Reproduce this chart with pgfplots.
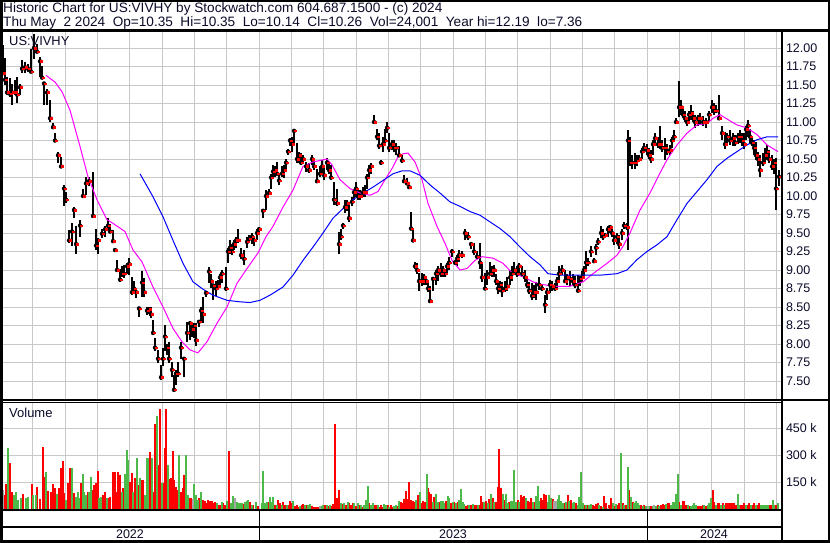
\documentclass[border=0pt]{standalone}
\usepackage{pgfplots}
\pgfplotsset{compat=1.18}
\usepackage{pgfplotstable}
\usepackage{fontspec}
\setmainfont{Liberation Sans}

\definecolor{volred}{RGB}{255,0,0}
\definecolor{volgreen}{RGB}{77,185,72}
\definecolor{volgray}{RGB}{165,165,165}
\definecolor{gridgray}{RGB}{200,200,200}
\definecolor{mafast}{RGB}{255,0,255}
\definecolor{maslow}{RGB}{0,0,255}
\definecolor{txt}{RGB}{10,10,40}

% daily bars, x in pixel units of the chart
\pgfplotstableread{
x l h c
3 11.63 12.04 11.66
5 11.50 11.86 11.57
7 11.37 11.61 11.40
10 11.34 11.59 11.38
12 11.23 11.52 11.40
15 11.36 11.57 11.40
17 11.25 11.61 11.37
20 11.36 11.52 11.47
22 11.66 11.84 11.72
25 11.66 11.81 11.74
28 11.68 11.79 11.72
31 11.66 11.99 11.68
34 11.85 12.19 12.00
37 11.93 12.06 11.95
40 11.61 11.88 11.82
42 11.59 11.75 11.60
44 11.23 11.54 11.52
47 11.23 11.45 11.40
50 11.00 11.30 11.05
53 10.91 10.98 10.93
55 10.73 10.85 10.75
58 10.44 10.60 10.55
61 10.40 10.53 10.40
64 9.86 10.15 10.10
66 9.90 10.05 9.95
69 9.36 9.54 9.40
72 9.32 9.63 9.52
74 9.70 9.85 9.81
76 9.22 9.59 9.35
80 9.45 9.67 9.60
83 9.99 10.10 10.00
86 10.01 10.26 10.17
89 10.13 10.26 10.20
93 9.70 10.33 9.73
96 9.27 9.56 9.33
98 9.22 9.43 9.40
102 9.43 9.56 9.49
105 9.45 9.60 9.55
108 9.54 9.70 9.60
110 9.50 9.62 9.52
113 9.36 9.54 9.39
115 9.25 9.30 9.27
117 8.98 9.13 9.00
120 8.84 9.02 8.87
122 8.90 9.05 8.95
124 8.89 9.07 8.95
127 8.95 9.10 9.05
129 8.93 9.16 9.08
132 8.66 8.91 8.70
134 8.70 8.85 8.75
136 8.62 8.75 8.70
139 8.37 8.50 8.48
142 8.64 8.98 8.83
144 8.64 8.89 8.70
147 8.39 8.50 8.45
149 8.40 8.50 8.47
151 8.35 8.50 8.40
153 8.12 8.32 8.15
155 7.90 8.08 7.95
158 7.74 7.92 7.80
161 7.51 7.72 7.55
163 7.70 7.95 7.80
165 7.90 8.26 8.10
167 7.85 8.00 7.95
169 7.74 8.03 7.80
172 7.56 7.76 7.65
174 7.36 7.58 7.38
176 7.45 7.65 7.60
178 7.56 7.76 7.60
181 7.80 8.03 7.95
184 7.56 7.81 7.80
187 8.03 8.30 8.15
190 8.05 8.30 8.28
192 8.10 8.25 8.20
194 8.08 8.28 8.25
196 7.97 8.28 8.05
199 8.23 8.32 8.30
201 8.30 8.50 8.45
203 8.28 8.64 8.40
206 8.64 8.70 8.69
209 8.82 9.04 8.98
211 8.75 8.95 8.85
213 8.60 8.80 8.79
216 8.65 8.85 8.75
218 8.73 8.86 8.78
220 8.80 8.95 8.90
222 8.82 9.00 8.95
226 8.71 9.04 8.75
228 9.10 9.30 9.25
230 9.22 9.40 9.30
232 9.20 9.35 9.25
234 9.27 9.40 9.35
236 9.30 9.45 9.40
238 9.36 9.56 9.40
241 9.15 9.30 9.20
244 9.07 9.27 9.15
247 9.30 9.45 9.38
249 9.36 9.47 9.42
252 9.35 9.50 9.45
254 9.32 9.45 9.40
257 9.40 9.55 9.50
259 9.47 9.58 9.55
263 9.70 9.81 9.80
266 9.81 10.08 10.00
269 10.04 10.10 10.04
271 10.10 10.30 10.25
273 10.24 10.42 10.33
275 10.25 10.40 10.35
277 10.28 10.46 10.30
279 10.15 10.28 10.21
282 10.25 10.40 10.30
284 10.24 10.42 10.35
286 10.35 10.50 10.45
288 10.55 10.64 10.60
290 10.67 10.78 10.75
292 10.60 10.80 10.70
294 10.71 10.91 10.88
297 10.44 10.71 10.50
299 10.45 10.60 10.55
301 10.42 10.58 10.45
303 10.45 10.55 10.50
306 10.33 10.46 10.40
309 10.31 10.44 10.35
312 10.42 10.55 10.50
314 10.35 10.50 10.40
317 10.17 10.37 10.20
320 10.25 10.40 10.30
322 10.30 10.48 10.40
324 10.22 10.42 10.28
327 10.35 10.51 10.45
329 10.30 10.45 10.35
331 10.22 10.42 10.25
334 9.88 10.19 9.95
337 9.86 10.10 9.90
339 9.22 9.52 9.35
341 9.40 9.55 9.45
343 9.56 9.63 9.60
345 9.77 9.94 9.85
347 9.80 9.95 9.90
349 9.65 9.90 9.70
352 9.86 9.99 9.92
354 9.95 10.10 10.05
356 9.99 10.19 10.10
358 9.95 10.10 10.00
360 9.94 10.08 10.00
363 9.98 10.12 10.05
365 9.99 10.15 10.05
367 10.10 10.30 10.25
369 10.24 10.42 10.35
371 10.30 10.45 10.40
374 10.98 11.09 11.00
377 10.76 10.91 10.80
379 10.64 10.85 10.68
381 10.42 10.49 10.45
383 10.60 10.80 10.70
385 10.71 10.91 10.75
387 10.85 11.00 10.92
389 10.60 10.85 10.65
392 10.62 10.76 10.70
394 10.60 10.75 10.65
396 10.55 10.71 10.65
399 10.53 10.67 10.55
402 10.44 10.55 10.48
404 10.17 10.28 10.20
407 10.15 10.24 10.17
409 10.10 10.15 10.12
411 9.54 9.79 9.56
413 9.38 9.56 9.40
415 9.02 9.11 9.05
417 8.95 9.10 9.00
419 8.71 8.96 8.85
422 8.78 8.96 8.85
424 8.80 8.95 8.90
426 8.80 8.89 8.85
428 8.70 8.85 8.75
430 8.55 8.78 8.58
433 8.71 8.91 8.88
436 8.80 9.00 8.95
438 8.85 9.05 9.00
441 8.91 9.09 8.95
443 8.90 9.05 9.00
445 8.91 9.00 8.95
447 8.95 9.10 9.05
449 9.00 9.18 9.10
452 9.18 9.29 9.25
455 9.07 9.13 9.10
457 9.05 9.20 9.15
459 9.11 9.27 9.20
462 9.16 9.25 9.20
465 9.40 9.56 9.50
468 9.40 9.52 9.45
471 9.29 9.38 9.35
474 9.20 9.36 9.25
477 9.16 9.25 9.18
480 9.02 9.36 9.10
482 8.84 9.09 8.90
485 8.73 8.96 8.75
487 8.80 9.00 8.90
490 8.93 9.11 8.95
492 8.90 9.05 9.00
494 8.91 9.07 9.00
496 8.80 8.95 8.85
498 8.68 8.86 8.75
500 8.70 8.85 8.80
502 8.64 8.84 8.72
505 8.70 8.85 8.75
507 8.71 8.91 8.78
510 8.80 9.00 8.90
512 8.85 9.05 8.95
514 8.93 9.11 9.00
517 8.90 9.05 8.95
519 8.95 9.09 9.05
522 8.90 9.05 8.95
525 8.84 9.00 8.90
527 8.75 8.90 8.80
529 8.68 8.84 8.72
532 8.60 8.82 8.65
534 8.62 8.80 8.70
536 8.60 8.84 8.70
539 8.73 8.91 8.80
542 8.71 8.80 8.75
545 8.42 8.66 8.53
547 8.60 8.75 8.70
550 8.69 8.87 8.80
552 8.72 8.85 8.78
555 8.71 8.82 8.75
557 8.75 8.90 8.85
559 8.87 9.05 8.95
562 8.93 9.07 9.00
565 8.82 9.00 8.85
567 8.80 8.95 8.90
570 8.78 8.98 8.88
573 8.80 8.95 8.85
575 8.75 8.92 8.80
578 8.71 8.93 8.72
580 8.78 8.92 8.88
582 8.84 8.98 8.90
584 8.90 9.05 9.00
586 9.00 9.25 9.10
588 9.05 9.16 9.10
591 9.18 9.32 9.25
594 9.09 9.16 9.12
596 9.20 9.35 9.30
598 9.34 9.43 9.38
601 9.43 9.59 9.50
603 9.40 9.55 9.45
605 9.43 9.50 9.47
608 9.45 9.60 9.55
610 9.50 9.61 9.58
612 9.45 9.55 9.50
614 9.34 9.50 9.40
617 9.35 9.50 9.45
619 9.29 9.47 9.35
622 9.40 9.55 9.50
624 9.56 9.65 9.60
627 9.54 9.63 9.58
628 9.27 10.89 10.75
630 10.40 10.80 10.45
632 10.37 10.55 10.45
635 10.37 10.58 10.45
637 10.40 10.55 10.48
639 10.49 10.55 10.50
642 10.50 10.65 10.60
644 10.58 10.71 10.65
647 10.55 10.70 10.62
649 10.50 10.65 10.55
651 10.44 10.62 10.50
653 10.55 10.75 10.70
655 10.69 10.85 10.78
658 10.65 10.80 10.70
660 10.64 10.94 10.70
662 10.60 10.75 10.65
665 10.49 10.78 10.65
667 10.55 10.70 10.60
670 10.55 10.69 10.62
672 10.65 10.80 10.75
674 10.76 10.89 10.80
676 11.00 11.05 11.00
679 11.07 11.55 11.20
681 11.10 11.30 11.20
683 11.05 11.21 11.10
685 11.00 11.15 11.05
687 10.94 11.07 11.00
689 11.00 11.15 11.10
691 11.03 11.23 11.12
693 11.00 11.15 11.05
695 10.92 11.10 11.00
698 10.95 11.10 11.05
700 10.96 11.12 11.05
703 10.95 11.08 11.00
706 10.92 11.05 11.00
709 11.00 11.15 11.10
712 11.12 11.30 11.20
714 11.10 11.25 11.15
716 11.12 11.23 11.15
719 11.03 11.37 11.05
722 10.76 10.94 10.85
725 10.64 10.87 10.70
727 10.70 10.85 10.80
730 10.69 10.89 10.75
733 10.68 10.85 10.78
735 10.67 10.82 10.72
738 10.70 10.85 10.80
740 10.71 10.89 10.80
742 10.68 10.85 10.75
744 10.64 10.85 10.70
746 10.75 10.95 10.90
748 10.80 11.03 10.95
750 10.70 10.90 10.80
752 10.67 10.80 10.72
754 10.55 10.75 10.65
756 10.49 10.73 10.55
758 10.40 10.60 10.50
760 10.26 10.55 10.35
763 10.40 10.58 10.45
765 10.45 10.65 10.55
767 10.49 10.69 10.60
769 10.45 10.62 10.50
772 10.35 10.55 10.40
774 10.30 10.50 10.45
776 9.81 10.51 10.10
779 10.13 10.35 10.26
}\pricetab

% volume in thousands; c: 0 down (red), 1 up (green), 2 unchanged (gray)
\pgfplotstableread{
x v c
3.5 107 2
4.5 80 0
6 139 0
8.3 342 1
10 255 0
12 98 0
14 80 1
16 98 1
18.3 52 1
20.7 61 1
23.3 83 0
26 61 1
28.3 70 1
31.7 139 0
33.3 80 1
35.7 80 1
37.3 126 0
40 57 0
42.7 346 0
44.3 181 0
46 209 1
48.3 102 0
50.7 98 0
52.7 139 0
55 117 0
56.7 87 1
59.3 117 0
61 228 0
62.7 268 0
64.3 89 0
66 52 1
68.3 144 0
70 228 0
71.7 231 1
74 89 0
76 70 1
77.7 94 1
79.3 65 1
81 144 0
82.7 194 1
84.3 98 1
86 80 1
87.7 98 0
89.3 98 1
91 181 1
92.7 107 0
94.3 135 0
96 144 0
97.7 213 0
99.3 61 1
101 70 1
102.7 80 0
105 94 0
106.7 61 1
108.3 65 0
110 70 0
112.7 209 0
115 209 0
116.7 98 0
118.3 209 0
120 191 0
121.7 98 1
123.3 117 0
125 194 1
126.7 329 1
128.3 274 1
130 154 0
131.7 200 0
133.3 98 1
135 172 0
136.7 283 1
138.3 135 0
140 176 1
141.7 163 0
143.3 163 0
145 80 1
146.7 287 1
148.3 287 1
150 320 0
151.7 283 1
153.3 98 0
155 472 0
156.7 518 1
158.3 246 0
160 557 0
161.7 144 1
163.3 144 0
165 339 0
166.3 557 0
167.7 246 1
169.3 168 0
171 172 0
172.7 324 0
174.3 163 0
176 126 0
177.7 107 0
179.3 302 1
181 98 0
182.7 117 0
184.3 191 0
186 302 1
187.7 80 1
189.3 61 0
191 61 0
192.7 57 2
194.3 139 1
196 80 1
197.7 52 1
199.3 61 0
201 94 1
203.3 50 0
205 46 0
206.7 33 0
208.3 50 0
210 46 0
211.7 46 0
213.3 33 0
215 43 0
216.7 33 1
218.3 24 0
220 24 0
221.7 39 1
223.3 33 0
225 24 0
226.7 46 1
229.3 324 0
231 33 1
233.3 76 1
235 61 2
236.7 39 1
238.3 33 1
240 33 1
241.7 33 1
243.3 28 0
245 39 1
246.7 46 1
248.3 52 1
250 43 0
251.7 24 1
253.3 24 0
256 39 1
258.3 20 0
261.7 33 1
263.3 213 1
265 33 1
266.7 39 1
268.3 39 0
270 70 1
271.7 43 1
273.3 70 1
275 24 0
276.7 24 1
278.3 52 0
280 33 0
281.7 24 1
283.3 39 0
285 24 0
286.7 24 1
288.3 24 0
290 46 0
291.7 33 0
293.3 46 1
295 20 0
296.7 24 0
298.3 15 0
300 20 1
301.7 24 0
303.3 28 0
305 24 1
306.7 24 0
308.3 24 1
310 28 1
311.7 20 0
313.3 15 0
315 15 0
316.7 15 0
318.3 15 0
320 20 2
321.7 20 1
323.3 24 1
325 24 0
326.7 24 1
328.3 20 0
330 24 1
331.7 20 0
333.3 28 0
335 475 0
336.7 61 0
339.3 107 0
341 33 1
342.7 28 0
344.3 33 1
346 24 0
347.7 39 1
349.3 33 0
351 24 0
352.7 33 0
354.3 33 1
356 20 0
357.7 33 1
359.3 24 0
361 24 1
362.7 15 0
364.3 24 1
366 52 1
367.7 131 1
369.3 33 0
371 24 1
372.7 33 1
374.3 24 0
376 24 0
377.7 24 1
379.3 15 0
381 24 0
382.7 15 0
384.3 28 1
386 24 1
387.7 24 0
389.3 15 1
391 24 0
392.7 15 0
394.3 20 1
396 24 1
397.7 20 0
399.3 46 1
401 39 0
402.7 33 0
404.3 57 0
406 102 0
407.7 57 0
409.3 154 0
411 52 0
412.7 46 0
414.3 43 0
416 52 1
417.7 80 0
420 94 1
421.7 33 0
423.3 46 0
425 43 0
426.7 196 1
428 120 0
429.3 94 0
431 83 0
432.7 43 1
434.3 70 0
436 87 1
437.7 39 1
439.3 39 0
441 46 1
442.7 46 1
444.3 33 1
446 46 0
447.7 76 1
449.3 61 1
451 33 0
452.7 43 1
454.3 43 0
456 33 1
457.7 43 0
459.3 52 1
461 113 1
462.7 39 1
464.3 28 1
466 20 0
467.7 24 0
469.3 24 1
471 24 0
472.7 28 1
474.3 24 0
476 24 0
477.7 24 1
479.3 24 0
481 74 0
482.7 39 0
484.3 43 1
486 46 0
487.7 33 1
489.3 57 0
491 83 1
492.7 61 0
494.3 39 1
496 43 0
497.7 126 0
499.3 335 0
501 117 0
502.7 83 1
504.3 52 0
506 83 1
507.7 33 1
509.3 43 0
511 46 1
512.7 46 1
514.3 218 1
516 43 1
517.7 52 0
519.3 43 1
521 80 0
522.7 70 0
524.3 76 0
526 61 1
527.7 46 0
529.3 39 0
531 61 0
532.7 39 1
534.3 43 0
536 76 1
537.7 131 1
539.3 46 1
541 61 0
542.7 52 0
544.3 83 0
546 80 0
547.7 39 1
549.3 80 1
551 61 1
552.7 57 0
554.3 46 2
556 46 2
557.7 57 1
559.3 80 1
561 46 1
562.7 33 1
564.3 33 0
566 39 1
567.7 80 0
569.3 46 1
571 52 0
572.7 33 1
574.3 39 1
576 33 0
577.7 24 1
579.3 70 1
581 205 1
582.7 33 1
584.3 24 0
586 24 1
587.7 24 0
589.3 24 1
591 28 1
592.7 24 0
594.3 20 0
596 28 0
597.7 33 0
599.3 24 1
601 20 0
602.7 15 1
604.3 76 0
606 33 0
607.7 9 2
609.3 24 0
611 61 0
612.7 33 1
614.3 20 0
616 28 1
617.7 24 0
619.3 33 0
621 311 1
622.7 33 0
624.3 24 1
626 24 0
627.7 237 1
629.3 107 0
631 70 1
632.7 43 0
634.3 33 1
636 46 1
637.7 33 1
639.3 24 1
641 24 0
642.7 20 1
644.3 24 0
646 20 1
647.7 20 2
649.3 18 1
651 18 0
652.7 20 1
654.3 24 2
656 20 1
657.7 24 0
659.3 20 1
661 24 0
662.7 28 0
664.3 24 0
666 28 1
667.7 33 0
669.3 33 0
671 24 1
672.7 39 1
674.3 43 1
676 83 1
677.7 196 1
679.3 43 0
681 24 1
682.7 46 0
684.3 46 0
686 24 0
687.7 24 1
689.3 20 0
691 20 1
692.7 24 1
694.3 33 1
696 24 1
697.7 20 0
699.3 20 0
701 20 0
702.7 24 0
704.3 24 1
706 20 0
707.7 24 1
709.3 33 1
711 65 1
712.7 107 0
714.3 39 0
716 24 1
717.7 33 0
719.3 33 0
721 24 1
722.7 33 0
724.3 24 1
726 33 0
727.7 33 0
729.3 33 0
731 33 0
732.7 33 0
734.3 33 0
736 24 0
737.7 87 1
739.3 24 1
741 24 0
742.7 24 0
744.3 33 0
746 24 1
747.7 24 0
749.3 33 0
751 24 1
752.7 24 0
754.3 33 0
756 24 1
757.7 24 0
759.3 33 0
761 24 1
762.7 24 1
764.3 24 1
766 24 1
767.7 24 1
769.3 24 0
771 24 0
772.7 52 1
774.3 24 1
776 24 0
777.7 33 1
}\voltab

\pgfplotstableread{
x m
46 11.63
55 11.54
62 11.41
70 11.16
80 10.67
88 10.26
97 9.95
107 9.68
113 9.63
125 9.52
133 9.27
142 9.11
153 8.77
163 8.50
173 8.21
182 8.03
190 7.92
198 7.88
207 8.03
217 8.28
227 8.50
237 8.82
247 9.02
258 9.23
266 9.45
273 9.59
283 9.85
293 10.08
303 10.40
313 10.46
320 10.48
327 10.50
332 10.42
340 10.22
350 10.10
360 10.04
370 10.01
378 10.06
385 10.22
392 10.37
398 10.53
403 10.57
408 10.58
415 10.46
422 10.22
428 9.90
437 9.59
445 9.36
452 9.13
460 9.00
467 9.02
475 9.13
482 9.18
493 9.16
503 9.09
513 8.95
523 8.91
533 8.84
540 8.81
553 8.78
570 8.78
583 8.84
593 8.95
607 9.09
617 9.20
623 9.32
630 9.50
640 9.81
650 10.04
660 10.31
667 10.49
677 10.69
687 10.85
697 10.96
707 10.98
713 11.05
720 11.10
727 11.04
737 10.96
747 10.92
757 10.83
767 10.69
778 10.60
}\fastma

\pgfplotstableread{
x m
140 10.30
153 9.99
163 9.72
173 9.40
183 9.09
193 8.84
203 8.74
213 8.66
227 8.59
240 8.57
250 8.56
260 8.59
270 8.66
283 8.77
293 8.93
303 9.13
313 9.31
323 9.50
333 9.70
343 9.83
353 9.95
363 10.04
373 10.12
383 10.21
393 10.30
402 10.34
410 10.34
420 10.28
430 10.15
440 10.04
450 9.92
460 9.86
470 9.79
480 9.74
490 9.65
500 9.56
510 9.45
520 9.31
530 9.18
540 9.07
548 8.95
560 8.93
580 8.93
600 8.93
617 8.95
627 9.00
637 9.14
647 9.25
657 9.34
667 9.45
677 9.68
687 9.90
697 10.06
707 10.22
717 10.40
727 10.51
737 10.60
747 10.69
757 10.76
767 10.80
778 10.80
}\slowma

\newcommand{\lbl}{\fontsize{12.5}{14}\selectfont}
\newcommand{\ttl}{\fontsize{13.6}{15}\selectfont}
\newcommand{\dsp}{\hspace*{0.556em}}

\pgfplotsset{
  panel/.style={
    scale only axis, width=778pt,
    xmin=3, xmax=781,
    axis line style={draw=none},
    major tick length=0pt,
    xtick={32.7,65,97.3,129.7,162,194.3,226.7,259,291.3,323.7,356,388.3,420.7,453,485.3,517.7,550,582.3,614.7,647,679.3,711.7,744,776.3},
    xticklabels={},
    grid=major,
    grid style={gridgray, line width=0.8pt},
    yticklabel pos=right,
    tick label style={font=\lbl, text=txt, /pgf/number format/assume math mode=true},
    yticklabel style={xshift=1.5pt},
  },
}

\begin{document}
\begin{tikzpicture}[x=1pt, y=1pt]
\useasboundingbox (0,0) rectangle (830,543);

% price panel
\begin{axis}[panel, at={(3pt,143pt)}, anchor=south west, height=369pt,
    ymin=7.2432, ymax=12.2297,
    ytick={7.5,7.75,8,8.25,8.5,8.75,9,9.25,9.5,9.75,10,10.25,10.5,10.75,11,11.25,11.5,11.75,12},
    yticklabel style={/pgf/number format/.cd, fixed, fixed zerofill, precision=2}]
\addplot[only marks, mark=none,
    error bars/.cd, y dir=both, y explicit, error mark=none,
    error bar style={draw=black, line width=1.4pt}]
  table[x=x, y=c, y error plus expr=\thisrow{h}-\thisrow{c},
        y error minus expr=\thisrow{c}-\thisrow{l}] {\pricetab};
\addplot[only marks, mark=square*, mark size=0.75pt, color=red,
    mark options={draw=none, fill=red}]
  table[x expr=\thisrow{x}+1.1, y=c] {\pricetab};
\addplot[mafast, line width=1pt] table[x=x, y=m] {\fastma};
\addplot[maslow, line width=1pt] table[x=x, y=m] {\slowma};
\end{axis}

% volume panel
\begin{axis}[panel, at={(3pt,33.7pt)}, anchor=south west, height=106.3pt,
    ymin=0, ymax=590,
    ytick={150,300,450}, yticklabels={150 k,300 k,450 k}]
\addplot[ycomb, volred, line width=1.7pt, mark=none,
    restrict expr to domain={\thisrow{c}}{-0.5:0.5}]
  table[x=x, y=v] {\voltab};
\addplot[ycomb, volgreen, line width=1.7pt, mark=none,
    restrict expr to domain={\thisrow{c}}{0.5:1.5}]
  table[x=x, y=v] {\voltab};
\addplot[ycomb, volgray, line width=1.7pt, mark=none,
    restrict expr to domain={\thisrow{c}}{1.5:2.5}]
  table[x=x, y=v] {\voltab};
\end{axis}

% frame and texts, in pixel coordinates with y pointing down
\begin{scope}[yshift=543pt, yscale=-1]
  \draw[line width=2.5pt] (1.25,1.25) rectangle (828.75,541.75);
  \draw[line width=2.5pt] (0,30.5) -- (830,30.5);
  \draw[line width=2.5pt] (782,30.5) -- (782,542);
  \draw[line width=1.2pt] (0,400) -- (830,400);
  \draw[line width=1.2pt] (0,402.6) -- (782,402.6);
  \draw[line width=2.2pt] (0,510.2) -- (782,510.2);
  \draw[line width=2pt] (0,526.8) -- (782,526.8);
  \draw[line width=1.4pt] (259.3,510) -- (259.3,541);
  \draw[line width=1.4pt] (647.3,510) -- (647.3,541);

  \node[anchor=base west, inner sep=0pt, font=\ttl, text=txt] at (3,12.8)
    {Historic Chart for US:VIVHY by Stockwatch.com 604.687.1500 - (c) 2024};
  \node[anchor=base west, inner sep=0pt, font=\ttl, text=txt] at (3,26.7)
    {Thu May\dsp 2 2024\dsp Op=10.35\dsp Hi=10.35\dsp Lo=10.14\dsp Cl=10.26\dsp Vol=24,001\dsp Year hi=12.19\dsp lo=7.36};
  \node[anchor=base west, inner sep=0pt, font=\fontsize{12.9}{14}\selectfont, text=txt] at (9,46) {US:VIVHY};
  \node[anchor=base west, inner sep=0pt, font=\fontsize{13}{14}\selectfont, text=txt] at (9,417.5) {Volume};
  \node[anchor=base, inner sep=0pt, font=\lbl, text=txt] at (130,539) {2022};
  \node[anchor=base, inner sep=0pt, font=\lbl, text=txt] at (453,539) {2023};
  \node[anchor=base, inner sep=0pt, font=\lbl, text=txt] at (714,539) {2024};
\end{scope}
\end{tikzpicture}
\end{document}
